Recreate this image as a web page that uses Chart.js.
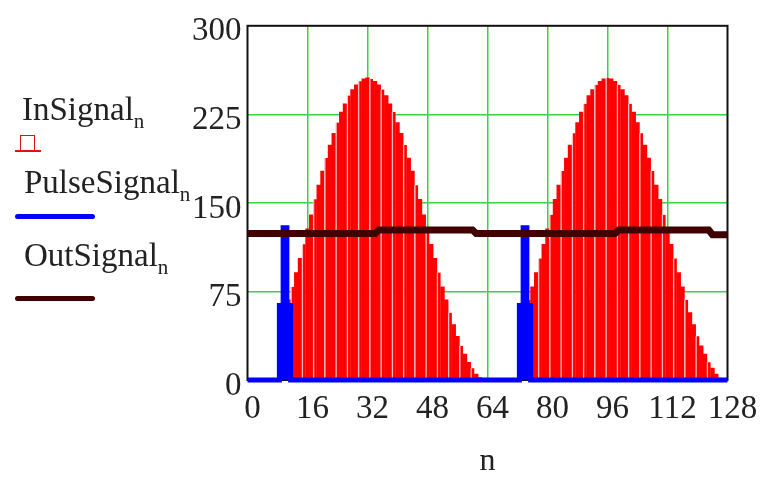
<!DOCTYPE html>
<html>
<head>
<meta charset="utf-8">
<script src="https://cdn.jsdelivr.net/npm/chart.js@4.4.1/dist/chart.umd.min.js"></script>
<style>
  body { margin: 0; background: #fff; }
  #wrap { position: relative; width: 763px; height: 481px; }
  .lbl { position: absolute; font: 33px/33px "Liberation Serif", serif; color: #222; white-space: nowrap; }
  .lbl sub { font-size: 21px; vertical-align: baseline; position: relative; top: 8px; }
  .mark { position: absolute; }
</style>
</head>
<body>
<div id="wrap">
  <canvas id="myChart" width="763" height="481"></canvas>
  <div class="lbl" style="left:22px; top:93px">InSignal<sub>n</sub></div>
  <div class="mark" style="left:20px; top:135px; width:13px; height:14px; border:1.5px solid #e01010; border-bottom:none"></div>
  <div class="mark" style="left:15px; top:150px; width:26px; height:1.5px; background:#e01010"></div>
  <div class="lbl" style="left:24px; top:166px">PulseSignal<sub>n</sub></div>
  <div class="mark" style="left:15px; top:214px; width:80px; height:5px; background:#0000ff; border-radius:3px"></div>
  <div class="lbl" style="left:24px; top:239px">OutSignal<sub>n</sub></div>
  <div class="mark" style="left:15px; top:296px; width:80px; height:5px; background:#400000; border-radius:3px"></div>
</div>
<script>
// n = 0..128
const n = Array.from({ length: 129 }, (_, i) => i);

const InSignal = [
  0, 0, 0, 0, 0, 0, 0, 0, 0, 0, 57, 68, 79, 91, 103, 115,
  128, 140, 153, 165, 177, 188, 199, 209, 218, 227, 234, 241, 246, 250, 253, 255,
  256, 255, 253, 250, 246, 241, 234, 227, 218, 209, 199, 188, 177, 165, 153, 140,
  128, 115, 103, 91, 79, 68, 57, 47, 37, 29, 22, 15, 10, 5, 2, 1,
  0, 0, 0, 0, 0, 0, 0, 0, 0, 0, 57, 68, 79, 91, 103, 115,
  128, 140, 153, 165, 177, 188, 199, 209, 218, 227, 234, 241, 246, 250, 253, 255,
  256, 255, 253, 250, 246, 241, 234, 227, 218, 209, 199, 188, 177, 165, 153, 140,
  128, 115, 103, 91, 79, 68, 57, 47, 37, 29, 22, 15, 10, 5, 2, 1,
  0
];

const PulseSignal = [
  0, 0, 0, 0, 0, 0, 0, 0, 0, 63, 129, 63, 0, 0, 0, 0,
  0, 0, 0, 0, 0, 0, 0, 0, 0, 0, 0, 0, 0, 0, 0, 0,
  0, 0, 0, 0, 0, 0, 0, 0, 0, 0, 0, 0, 0, 0, 0, 0,
  0, 0, 0, 0, 0, 0, 0, 0, 0, 0, 0, 0, 0, 0, 0, 0,
  0, 0, 0, 0, 0, 0, 0, 0, 0, 63, 129, 63, 0, 0, 0, 0,
  0, 0, 0, 0, 0, 0, 0, 0, 0, 0, 0, 0, 0, 0, 0, 0,
  0, 0, 0, 0, 0, 0, 0, 0, 0, 0, 0, 0, 0, 0, 0, 0,
  0, 0, 0, 0, 0, 0, 0, 0, 0, 0, 0, 0, 0, 0, 0, 0,
  0
];

const OutSignal = [
  124, 124, 124, 124, 124, 124, 124, 124, 124, 124, 124, 124, 124, 124, 124, 124,
  124, 124, 124, 124, 124, 124, 124, 124, 124, 124, 124, 124, 124, 124, 124, 124,
  124, 124, 124, 127, 127, 127, 127, 127, 127, 127, 127, 127, 127, 127, 127, 127,
  127, 127, 127, 127, 127, 127, 127, 127, 127, 127, 127, 127, 127, 124, 124, 124,
  124, 124, 124, 124, 124, 124, 124, 124, 124, 124, 124, 124, 124, 124, 124, 124,
  124, 124, 124, 124, 124, 124, 124, 124, 124, 124, 124, 124, 124, 124, 124, 124,
  124, 124, 124, 127, 127, 127, 127, 127, 127, 127, 127, 127, 127, 127, 127, 127,
  127, 127, 127, 127, 127, 127, 127, 127, 127, 127, 127, 127, 123, 123, 123, 123,
  123
];

const xTicks = [0, 16, 32, 48, 64, 80, 96, 112, 128];
const yTicks = [0, 75, 150, 225, 300];

const toPoints = (arr) => arr.map((v, i) => ({ x: n[i], y: v }));

// black frame round the plot area
const framePlugin = {
  id: 'frame',
  beforeDatasetsDraw(chart) {
    const { ctx, chartArea: a } = chart;
    ctx.save();
    ctx.strokeStyle = '#111';
    ctx.lineWidth = 2;
    ctx.strokeRect(a.left, a.top, a.right - a.left, a.bottom - a.top);
    ctx.restore();
  }
};

const gridColor = (c) => (c.tick && (c.tick.value === 0 || c.tick.value === 128 || c.tick.value === 300)) ? 'rgba(0,0,0,0)' : '#3fd23f';
const tickFont = { family: '"Liberation Serif", serif', size: 33 };

new Chart(document.getElementById('myChart'), {
  type: 'bar',
  data: {
    datasets: [
      {
        type: 'line',
        label: 'OutSignal',
        data: toPoints(OutSignal),
        borderColor: '#400000',
        borderWidth: 7,
        pointRadius: 0,
        order: 1
      },
      {
        type: 'line',
        label: 'PulseSignal',
        data: toPoints(PulseSignal),
        borderColor: '#0000ff',
        backgroundColor: '#0000ff',
        fill: 'origin',
        stepped: 'middle',
        borderWidth: 5,
        pointRadius: 0,
        clip: 6,
        order: 2
      },
      {
        type: 'bar',
        label: 'InSignal',
        data: toPoints(InSignal),
        backgroundColor: '#ff0000',
        borderColor: '#ffbcbc',
        borderWidth: (c) => (c.dataIndex % 3 === 0 ? { left: 1.5, right: 0, top: 0, bottom: 0 } : 0),
        barPercentage: 1,
        categoryPercentage: 1,
        order: 3
      }
    ]
  },
  options: {
    responsive: false,
    animation: false,
    devicePixelRatio: 1,
    layout: { padding: { left: 0, right: 35.5, top: 24, bottom: 0 } },
    plugins: { legend: { display: false }, tooltip: { enabled: false } },
    scales: {
      x: {
        type: 'linear',
        min: 0,
        max: 128,
        offset: false,
        afterBuildTicks: (s) => { s.ticks = xTicks.map(v => ({ value: v })); },
        afterFit: (s) => { s.height = 101; },
        grid: { color: gridColor, lineWidth: 1.5, drawTicks: false, offset: false },
        border: { display: false },
        ticks: { font: tickFont, color: '#222', padding: 10, labelOffset: 5, maxRotation: 0 },
        title: { display: true, text: 'n', font: { family: '"Liberation Serif", serif', size: 32 }, color: '#222', padding: { top: 0, bottom: 0 } }
      },
      y: {
        min: 0,
        max: 300,
        afterBuildTicks: (s) => { s.ticks = yTicks.map(v => ({ value: v })); },
        afterFit: (s) => { s.width = 247.5; },
        grid: { color: gridColor, lineWidth: 1.5, drawTicks: false },
        border: { display: false },
        ticks: { font: tickFont, color: '#222', padding: 6, labelOffset: 6 }
      }
    }
  },
  plugins: [framePlugin]
});
</script>
</body>
</html>
